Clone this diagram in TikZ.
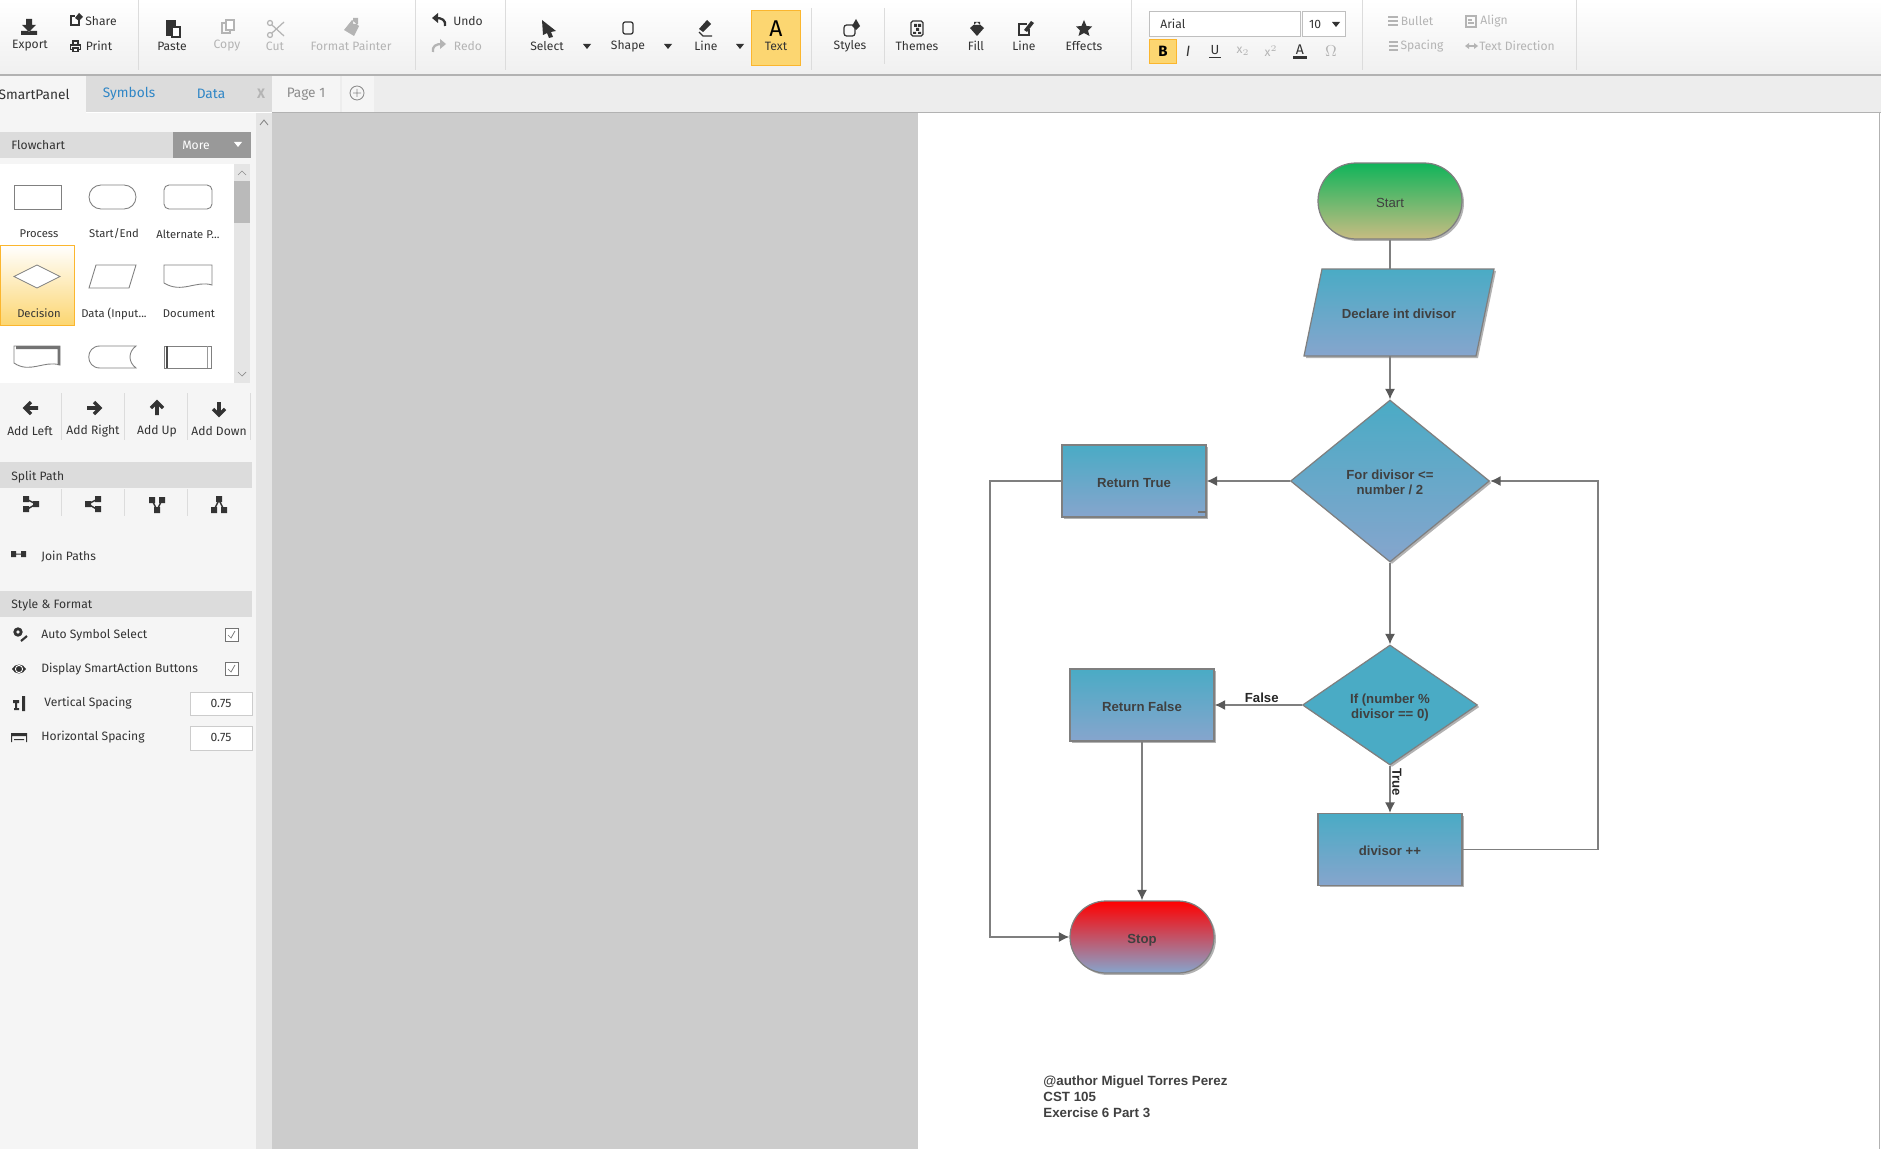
\documentclass[tikz,border=0pt]{standalone}
\usepackage{xcolor}
\usepackage{fontspec}
\setmainfont{Liberation Sans}
\newfontfamily\uifont{Fira Sans}
\usetikzlibrary{arrows.meta,shapes.geometric,shadows}

\definecolor{uidark}{HTML}{333333}
\definecolor{uioff}{HTML}{B4B4B4}
\definecolor{uibar}{HTML}{DCDCDC}
\definecolor{uipanel}{HTML}{F5F5F5}
\definecolor{uiblue}{HTML}{2F86C6}
\definecolor{uiyellow}{HTML}{FCD671}
\definecolor{uiorange}{HTML}{FBB62E}
\definecolor{linegray}{HTML}{7F7F7F}
\definecolor{tipgray}{HTML}{595959}
\definecolor{boxtop}{HTML}{4AABC5}
\definecolor{boxbot}{HTML}{86A5CD}
\definecolor{starttop}{HTML}{10B45A}
\definecolor{startbot}{HTML}{C8BC82}

\tikzset{
    uilabel/.style={font=\uifont\fontsize{6.9}{8}\selectfont,text=uidark,inner sep=0pt,yshift=-0.02cm},
    uigray/.style={uilabel,text=uioff},
    uitab/.style={uilabel,font=\uifont\fontsize{7.8}{9}\selectfont},
    uishape/.style={uilabel,font=\uifont\fontsize{6.4}{8}\selectfont},
    uisep/.style={draw=uibar,line width=0.5pt},
    ico/.style={fill=uidark},
    icooff/.style={fill=uioff},
    outline/.style={draw=black!50,line width=0.5pt,fill=white},
    flowline/.style={draw=linegray,line width=1pt},
    flowarrow/.style={flowline,-{Latex[length=6pt,width=5.8pt,fill=tipgray,color=tipgray]}},
    flowshadow/.style={drop shadow={shadow xshift=0.04cm,shadow yshift=-0.04cm,opacity=0.3,fill=black}},
    flowtext/.style={font=\bfseries\fontsize{7.5}{8.6}\selectfont,text=black!75,align=center,inner sep=0pt},
    oneline/.style={text height=7pt,text depth=0pt},
    bluebox/.style={draw=linegray,line width=0.7pt,top color=boxtop,bottom color=boxbot,flowshadow,
        minimum width=2.88cm,minimum height=1.44cm,flowtext,oneline},
    bluediamond/.style={draw=linegray,line width=0.7pt,top color=boxtop,bottom color=boxbot,flowshadow,
        flowtext,shape=diamond},
    pill/.style={bluebox,rounded corners=0.72cm},
    edgetext/.style={flowtext,text=black!85,text height=5.4pt,text depth=0pt}
}

\begin{document}
\begin{tikzpicture}[x=0.02cm,y=-0.02cm]
    \useasboundingbox (0,0) rectangle (1881,1149);
    % backgrounds
    \fill[white] (0,0) rectangle (1881,1149);
    \fill[black!20] (272,113) rectangle (918,1149);
    \fill[uipanel] (0,113) rectangle (256,1149);
    \fill[black!10] (256,113) rectangle (272,1149);
    \fill[black!7] (272,76) rectangle (1881,112);
    \shade[top color=white,bottom color=black!6] (0,0) rectangle (1881,74);
    \fill[black!30] (0,74) rectangle (1881,76);
    \draw[black!30,line width=0.6pt] (272,112.5) -- (1881,112.5);
    \draw[black!30,line width=0.6pt] (1879.5,113) -- (1879.5,1149);
    % toolbar separators
    \draw[uisep] (138,0) -- (138,70);
    \draw[uisep] (415,0) -- (415,70);
    \draw[uisep] (505,0) -- (505,70);
    \draw[uisep] (811,8) -- (811,70);
    \draw[uisep] (884,8) -- (884,64);
    \draw[uisep] (1131,0) -- (1131,70);
    \draw[uisep] (1362,0) -- (1362,70);
    \draw[uisep] (1576,0) -- (1576,70);
    % toolbar labels
    \node[uilabel] (export) at (30,45) {Export};
    \node[uilabel] (share) at (101,20) {Share};
    \node[uilabel] (print) at (99,45) {Print};
    \node[uilabel] (paste) at (172,45) {Paste};
    \node[uigray] (copy) at (227,45) {Copy};
    \node[uigray] (cut) at (275,45) {Cut};
    \node[uigray] (painter) at (351,45) {Format Painter};
    \node[uilabel] (undo) at (468,20) {Undo};
    \node[uigray] (redo) at (468,45) {Redo};
    \node[uilabel] (select) at (547,45) {Select};
    \node[uilabel] (shape) at (628,45) {Shape};
    \node[uilabel] (linebtn) at (706,45) {Line};
    \fill[uiyellow] (751,10) rectangle (800,65);
    \draw[uiorange,line width=0.5pt] (751,10) rectangle (800,65);
    \node[uilabel,font=\uifont\fontsize{13}{14}\selectfont,text=black] (bigA) at (776,28) {A};
    \node[uilabel] (textbtn) at (776,45) {Text};
    \node[uilabel] (styles) at (850,45) {Styles};
    \node[uilabel] (themes) at (917,45) {Themes};
    \node[uilabel] (fill) at (976,45) {Fill};
    \node[uilabel] (linefmt) at (1024,45) {Line};
    \node[uilabel] (effects) at (1084,45) {Effects};
    \draw[black!25,fill=white,line width=0.5pt] (1149,11) rectangle (1300,36);
    \draw[black!25,fill=white,line width=0.5pt] (1302,11) rectangle (1345,36);
    \node[uilabel,anchor=west] (fontname) at (1160,23) {Arial};
    \node[uilabel] (fontsize) at (1315,23) {10};
    \fill[uiyellow] (1149,39) rectangle (1176,63);
    \draw[uiorange,line width=0.5pt] (1149,39) rectangle (1176,63);
    \node[uilabel,font=\uifont\bfseries\fontsize{8.5}{9}\selectfont,text=black] (boldb) at (1163,50) {B};
    \node[uilabel,font=\uifont\itshape\fontsize{8.5}{9}\selectfont] (itali) at (1188,50) {I};
    \node[uilabel,font=\uifont\fontsize{7.5}{9}\selectfont] (underu) at (1215,49) {U};
    \draw[uidark,line width=0.5pt] (1209,57) -- (1221,57);
    \node[uigray] (subx) at (1243,50) {x$_2$};
    \node[uigray] (supx) at (1271,50) {x$^2$};
    \node[uilabel,font=\uifont\fontsize{8}{9}\selectfont] (colora) at (1300,49) {A};
    \fill[uidark] (1293,56) rectangle (1307,59);
    \node[uigray,font=\fontsize{9}{9}\selectfont] (omega) at (1331,50) {$\Omega$};
    \node[uigray] (bullet) at (1417,20) {Bullet};
    \node[uigray] (align) at (1494,20) {Align};
    \node[uigray] (spacing) at (1422,45) {Spacing};
    \node[uigray] (direction) at (1517,45) {Text Direction};
    % toolbar icons
    \fill[ico] (26,19) rectangle (32,25) (22,25) -- (36,25) -- (29,32) -- cycle (21,31) rectangle (37,35);
    \draw[uidark,line width=0.7pt] (79,19) -- (79,25) -- (71,25) -- (71,16) -- (75,16);
    \fill[ico] (75,18) -- (79,13) -- (83,17) -- (79,21) -- cycle;
    \draw[uidark,line width=0.9pt] (73,45) -- (73,41) -- (78,41) -- (78,45) (70.5,45) rectangle (80.5,49.5);
    \draw[uidark,fill=white,line width=0.7pt] (73,48) rectangle (78,51.5);
    \fill[ico] (166,20) rectangle (176,36);
    \draw[uidark,fill=white,line width=0.6pt] (172,27) rectangle (180,37);
    \draw[uioff,line width=0.7pt] (222,23) rectangle (230,33);
    \draw[uioff,fill=white,line width=0.7pt] (226,20) rectangle (234,30);
    \draw[uioff,line width=0.7pt] (270,35) circle (2.5) (270,23) circle (2.5) (272,33) -- (284,22) (272,25) -- (284,36);
    \fill[icooff] (344,30) -- (352,20) -- (359,26) -- (354,36) -- cycle (353,18) rectangle (358,24);
    \draw[uidark,line width=1.3pt] (445,26) .. controls (446,20) and (442,18) .. (436,18);
    \fill[ico] (438,13) -- (438,23) -- (432,18) -- cycle;
    \draw[uioff,line width=1.3pt] (433,52) .. controls (432,46) and (436,44) .. (442,44);
    \fill[icooff] (440,39) -- (440,49) -- (446,44) -- cycle;
    \fill[ico] (542,20) -- (556,31) -- (551,32) -- (553,37) -- (549,38) -- (547,33) -- (543,35) -- cycle;
    \draw[uidark,line width=0.7pt,rounded corners=1.2pt] (623,22) rectangle (633,34);
    \fill[ico] (699,29) -- (707,20) -- (711,24) -- (703,32) -- cycle;
    \draw[uidark,line width=0.7pt] (699,32) -- (703,36) -- (712,36);
    \fill[ico] (583,44) -- (591,44) -- (587,49) -- cycle;
    \fill[ico] (664,44) -- (672,44) -- (668,49) -- cycle;
    \fill[ico] (736,44) -- (744,44) -- (740,49) -- cycle;
    \fill[ico] (1332,22) -- (1340,22) -- (1336,27) -- cycle;
    \draw[uidark,line width=0.7pt,rounded corners=1.5pt] (844,25) rectangle (855,36);
    \fill[ico] (856,19) -- (860,26) -- (856,30) -- (852,26) -- cycle;
    \draw[uidark,line width=0.7pt,rounded corners=1pt] (911,21) rectangle (923,36);
    \fill[ico] (914,24) rectangle (917,27) (918,24) rectangle (921,27) (916,28) rectangle (919,31) (913,32) rectangle (916,34) (918,32) rectangle (921,34);
    \fill[ico] (970,28) -- (977,22) -- (984,28) -- (977,36) -- cycle (974,22) rectangle (980,25);
    \draw[uidark,line width=0.7pt] (1027,24) -- (1019,24) -- (1019,35) -- (1029,35) -- (1029,29);
    \fill[ico] (1024,30) -- (1031,21) -- (1034,23) -- (1027,32) -- cycle;
    \fill[ico] (1084,20) -- (1086.5,26) -- (1092,26.5) -- (1088,30.5) -- (1089.5,36) -- (1084,33) -- (1078.5,36) -- (1080,30.5) -- (1076,26.5) -- (1081.5,26) -- cycle;
    \draw[uioff,line width=1pt] (1388,17) -- (1398,17) (1388,21) -- (1398,21) (1388,25) -- (1398,25);
    \draw[uioff,line width=0.6pt] (1466,16) rectangle (1476,27) (1468,20) -- (1472,20) (1468,23) -- (1474,23);
    \draw[uioff,line width=1pt] (1389,42) -- (1398,42) (1389,46) -- (1398,46) (1389,50) -- (1398,50);
    \draw[uioff,line width=0.7pt] (1466,46) -- (1477,46);
    \fill[icooff] (1469,43) -- (1469,49) -- (1465,46) -- cycle (1474,43) -- (1474,49) -- (1478,46) -- cycle;
    % tabs
    \fill[uipanel] (0,76) rectangle (86,113);
    \fill[uibar] (86,76) rectangle (272,112);
    \fill[uipanel] (272,76) rectangle (340,112);
    \fill[uipanel] (342,76) rectangle (374,112);
    \node[uitab,anchor=east] (smartpanel) at (70,93) {SmartPanel};
    \node[uitab,text=uiblue] (symbols) at (129,93) {Symbols};
    \node[uitab,text=uiblue] (data) at (211,93) {Data};
    \node[uitab,text=uioff,font=\uifont\bfseries\fontsize{7.8}{9}\selectfont] (closex) at (261,93) {X};
    \node[uitab,text=black!45] (page) at (306,93) {Page 1};
    \draw[black!45,line width=0.5pt] (357,93) circle (7) (353,93) -- (361,93) (357,89) -- (357,97);
    \draw[black!45,line width=0.5pt] (260,125) -- (264,120) -- (268,125);
    % flowchart panel
    \fill[uibar] (0,132) rectangle (173,158);
    \fill[black!40] (173,132) rectangle (251,158);
    \node[uilabel,anchor=west] (flowhead) at (11,144) {Flowchart};
    \node[uilabel,text=white] (more) at (196,144) {More};
    \fill[white] (234,142) -- (242,142) -- (238,147) -- cycle;
    \fill[white] (0,164) rectangle (250,383);
    \fill[black!10] (234,164) rectangle (250,383);
    \fill[black!27] (234,181) rectangle (250,223);
    \draw[black!45,line width=0.4pt] (238,175) -- (242,171) -- (246,175) (238,372) -- (242,376) -- (246,372);
    \shade[top color=white,bottom color=uiyellow] (0,245) rectangle (74,325);
    \draw[uiorange,line width=0.5pt] (0,245) rectangle (74,325);
    \draw[outline] (14,185) rectangle (61,209);
    \draw[outline,rounded corners=0.24cm] (89,185) rectangle (136,209);
    \draw[outline,rounded corners=0.1cm] (164,185) rectangle (212,209);
    \draw[outline] (14,276.5) -- (37,265) -- (60,276.5) -- (37,288) -- cycle;
    \draw[outline] (96,265) -- (136,265) -- (129,288) -- (89,288) -- cycle;
    \draw[outline] (164,265) -- (212,265) -- (212,285) .. controls (196,280) and (182,294) .. (164,283) -- cycle;
    \draw[outline] (14,346) -- (60,346) -- (60,365) .. controls (44,360) and (30,374) .. (14,363) -- cycle;
    \fill[black!55] (16,346) rectangle (60,349) (57.5,346) rectangle (60,365);
    \draw[outline] (100,346) -- (136,346) .. controls (128,352) and (128,362) .. (136,368) -- (100,368) .. controls (85,368) and (85,346) .. (100,346) -- cycle;
    \draw[outline] (164,346) rectangle (211,368);
    \draw[black!70,line width=0.6pt] (167,346) -- (167,368);
    \draw[black!40,line width=0.5pt] (207,346) -- (207,368);
    \node[uishape] (process) at (39,233) {Process};
    \node[uishape] (startend) at (114,233) {Start/End};
    \node[uishape] (alternate) at (188,233) {Alternate P...};
    \node[uishape] (decision) at (39,312.5) {Decision};
    \node[uishape] (datainput) at (114,312.5) {Data (Input...};
    \node[uishape] (document) at (189,312.5) {Document};
    % add buttons
    \draw[uisep] (61,393) -- (61,440) (124,393) -- (124,440) (187,393) -- (187,440) (250,393) -- (250,440);
    \draw[uidark,line width=2pt] (38,408) -- (26,408) (31,402) -- (25,408) -- (31,414);
    \draw[uidark,line width=2pt] (87,408) -- (99,408) (94,402) -- (100,408) -- (94,414);
    \draw[uidark,line width=2pt] (157,415) -- (157,403) (151,408) -- (157,402) -- (163,408);
    \draw[uidark,line width=2pt] (219,402) -- (219,414) (213,409) -- (219,415) -- (225,409);
    \node[uilabel] (addleft) at (30,430) {Add Left};
    \node[uilabel] (addright) at (93,430) {Add Right};
    \node[uilabel] (addup) at (157,430) {Add Up};
    \node[uilabel] (adddown) at (219,430) {Add Down};
    % split path
    \fill[uibar] (0,462) rectangle (252,488);
    \node[uilabel,anchor=west] (splithead) at (11,476) {Split Path};
    \draw[uisep] (61,489) -- (61,516) (124,489) -- (124,516) (187,489) -- (187,516);
    \draw[uidark,line width=0.8pt] (26,499) -- (36,504) -- (26,510);
    \fill[ico] (23,496) rectangle (29,502) (23,506) rectangle (29,512) (33,501) rectangle (39,507);
    \draw[uidark,line width=0.8pt] (98,499) -- (88,504) -- (98,510);
    \fill[ico] (95,496) rectangle (101,502) (95,506) rectangle (101,512) (85,501) rectangle (91,507);
    \draw[uidark,line width=0.8pt] (152,500) -- (157,510) -- (162,500);
    \fill[ico] (149,497) rectangle (155,503) (159,497) rectangle (165,503) (154,507) rectangle (160,513);
    \draw[uidark,line width=0.8pt] (214,510) -- (219,500) -- (224,510);
    \fill[ico] (211,507) rectangle (217,513) (221,507) rectangle (227,513) (216,496) rectangle (222,502);
    \fill[ico] (11,551) rectangle (16,557) (21,551) rectangle (26,557) (16,553.5) rectangle (21,554.5);
    \node[uilabel,anchor=west] (joinpaths) at (41,555.5) {Join Paths};
    % style and format
    \fill[uibar] (0,591) rectangle (252,617);
    \node[uilabel,anchor=west] (stylehead) at (11,604.5) {Style \& Format};
    \node[uilabel,anchor=west] (autosymbol) at (41,634.5) {Auto Symbol Select};
    \node[uilabel,anchor=west] (smartaction) at (41,668.5) {Display SmartAction Buttons};
    \node[uilabel,anchor=west] (vertspace) at (44,702.5) {Vertical Spacing};
    \node[uilabel,anchor=west] (horizspace) at (41,736.5) {Horizontal Spacing};
    \draw[black!55,fill=white,line width=0.4pt] (225,628) rectangle (238,641) (225,662) rectangle (238,675);
    \draw[black!55,line width=0.4pt] (228,635) -- (231,638) -- (235,631) (228,669) -- (231,672) -- (235,665);
    \draw[black!20,fill=white,line width=0.5pt] (190,692) rectangle (252,715) (190,726) rectangle (252,750);
    \node[uilabel] (vertvalue) at (221,702.5) {0.75};
    \node[uilabel] (horizvalue) at (221,736.5) {0.75};
    \draw[uidark,line width=1.6pt] (18,632) circle (3.2);
    \draw[uidark,line width=1.2pt] (21,641) -- (27,636);
    \fill[ico] (12,669) .. controls (15,663) and (23,663) .. (26,669) .. controls (23,675) and (15,675) .. (12,669) -- cycle;
    \draw[white,line width=0.5pt] (19,669) circle (3.6);
    \fill[ico] (22,696) rectangle (25,711) (13,700) rectangle (19,703) (14,708) rectangle (19,710) (15,700) rectangle (17,710);
    \fill[ico] (11,733) rectangle (27,736) (11,736) rectangle (12,742) (26,736) rectangle (27,742) (14,739) rectangle (24,740);
    % flowchart
    \node[pill,top color=starttop,bottom color=startbot,font=\fontsize{7.5}{8.6}\selectfont,minimum height=1.52cm,rounded corners=0.76cm] (start) at (1390,201) {Start};
    \shade[draw=linegray,line width=0.7pt,top color=boxtop,bottom color=boxbot,flowshadow] (1322,269) -- (1494,269) -- (1476,356) -- (1304,356) -- cycle;
    \node[flowtext,oneline,minimum width=3.44cm,minimum height=1.74cm] (declare) at (1399,312.5) {Declare int divisor};
    \node[bluediamond,minimum width=3.98cm,minimum height=3.24cm] (fordiv) at (1390,481) {\rule{0pt}{6.5pt}For divisor <=\hspace{0.08cm}\\number / 2};
    \node[bluebox] (rettrue) at (1134,481) {Return True};
    \draw[black!55,line width=0.8pt] (1198,512) -- (1206,512);
    \node[bluediamond,bottom color=boxtop,minimum width=3.5cm,minimum height=2.4cm] (ifdiv) at (1390,705) {\rule{0pt}{8.5pt}If (number \%\hspace{0.06cm}\\divisor == 0)};
    \node[bluebox] (retfalse) at (1142,705) {Return False};
    \node[bluebox] (divplus) at (1390,849.5) {divisor ++};
    \node[pill,top color=red,bottom color=boxbot] (stop) at (1142,937) {Stop};
    \coordinate (loopleft) at (990,481);
    \coordinate (loopright) at (1598,481);
    % connectors
    \draw[flowline] (start.south) -- (start.south |- declare.north);
    \draw[flowarrow] (fordiv.north |- declare.south) -- (fordiv.north);
    \draw[flowarrow] (fordiv.west) -- (rettrue.east);
    \draw[flowarrow] (fordiv.south) -- (ifdiv.north);
    \draw[flowarrow] (ifdiv.west) -- node[pos=.46,above=0.8pt,edgetext] (falselabel) {False} (retfalse.east);
    \draw[flowarrow] (ifdiv.south) -- node[pos=.35,xshift=0.14cm,rotate=-90,edgetext] (truelabel) {True} (divplus.north);
    \draw[flowarrow] (retfalse.south) -- (stop.north);
    \draw[flowarrow] (rettrue.west) -- (loopleft) |- (stop.west);
    \draw[flowarrow] (divplus.east) -| (loopright) -- (fordiv.east);
    % author note
    \node[flowtext,align=left,anchor=west,font=\bfseries\fontsize{7.6}{9.07}\selectfont] (author) at (1043,1096.5) {@author Miguel Torres Perez\\CST 105\\Exercise 6 Part 3};
\end{tikzpicture}
\end{document}
